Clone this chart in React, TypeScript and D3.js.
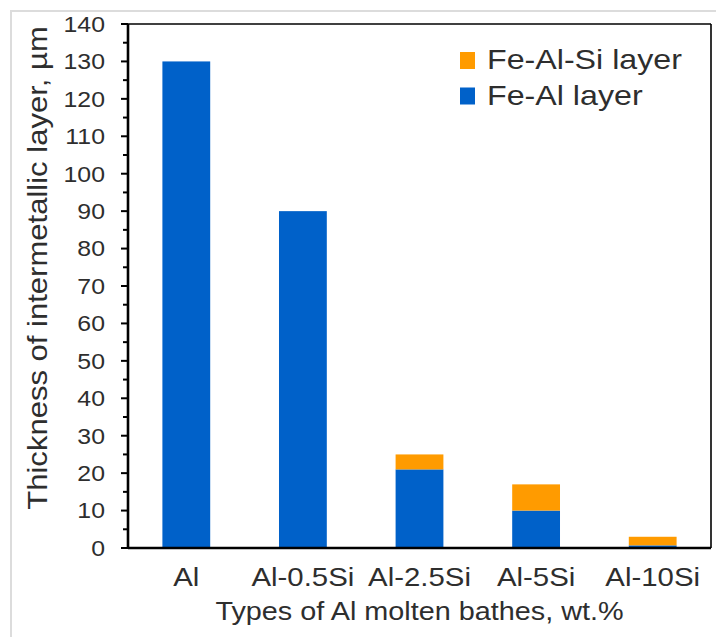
import React from "react";
import * as d3 from "d3";

const categories = ["Al", "Al-0.5Si", "Al-2.5Si", "Al-5Si", "Al-10Si"];
const feAlValues = [130, 90, 21, 10, 0.7];
const feAlSiValues = [0, 0, 4, 7, 2.3];
const seriesNames = ["Fe-Al layer", "Fe-Al-Si layer"];
const legendOrder = ["Fe-Al-Si layer", "Fe-Al layer"];
const yMajorTicks = [0, 10, 20, 30, 40, 50, 60, 70, 80, 90, 100, 110, 120, 130, 140];
const yMinorTicks = [5, 15, 25, 35, 45, 55, 65, 75, 85, 95, 105, 115, 125, 135];
const yTitle = "Thickness of intermetallic layer, µm";
const xTitle = "Types of Al molten bathes, wt.%";

const W = 716;
const H = 637;
const M = { left: 128, right: 5, top: 24, bottom: 89 };
const SX = 1.13;
const FONT = "'Liberation Sans', Arial, sans-serif";
const TEXT = "#2e2e2e";
const COLORS: Record<string, string> = {
  "Fe-Al layer": "#0061C9",
  "Fe-Al-Si layer": "#FF9B00",
};

export default function App() {
  const x = d3
    .scaleBand<string>()
    .domain(categories)
    .range([M.left, W - M.right])
    .paddingInner(0.59)
    .paddingOuter(0.295);
  const y = d3.scaleLinear().domain([0, 140]).range([H - M.bottom, M.top]);

  const rows = categories.map((c, i) => ({
    cat: c,
    "Fe-Al layer": feAlValues[i],
    "Fe-Al-Si layer": feAlSiValues[i],
  }));
  const stack = d3.stack<any>().keys(seriesNames)(rows);

  const x0 = M.left;
  const x1 = W - M.right;
  const y0 = y(0);
  const yTop = y(140);

  return (
    <svg
      width={W}
      height={H}
      style={{ position: "absolute", left: 0, top: 0, background: "#fff" }}
      fontFamily={FONT}
    >
      <rect x={11} y={11} width={W + 20} height={H + 20} fill="none" stroke="#dcdcdc" strokeWidth={2} />

      {stack.map((layer) =>
        layer.map((d, i) => (
          <rect
            key={layer.key + i}
            x={x(categories[i])}
            width={x.bandwidth()}
            y={y(d[1])}
            height={Math.max(0, y(d[0]) - y(d[1]))}
            fill={COLORS[layer.key]}
          />
        ))
      )}

      {/* plot frame */}
      <line x1={x0} x2={x1} y1={yTop} y2={yTop} stroke="#000" strokeWidth={1.6} />
      <line x1={x1} x2={x1} y1={yTop} y2={y0} stroke="#000" strokeWidth={1.6} />
      <line x1={x0} x2={x1} y1={y0} y2={y0} stroke="#000" strokeWidth={2.6} />
      <line x1={x0} x2={x0} y1={yTop} y2={y0} stroke="#000" strokeWidth={2.6} />

      {yMajorTicks.map((t) => (
        <g key={"mj" + t}>
          <line x1={x0 - 7} x2={x0} y1={y(t)} y2={y(t)} stroke="#000" strokeWidth={2} />
          <text
            transform={`translate(105,${y(t)}) scale(${SX},1)`}
            textAnchor="end"
            dy="0.36em"
            fontSize={22}
            fill={TEXT}
          >
            {t}
          </text>
        </g>
      ))}
      {yMinorTicks.map((t) => (
        <line key={"mn" + t} x1={x0 - 5} x2={x0} y1={y(t)} y2={y(t)} stroke="#000" strokeWidth={2} />
      ))}

      {categories.map((c) => (
        <text
          key={c}
          transform={`translate(${(x(c) as number) + x.bandwidth() / 2},586) scale(${SX},1)`}
          textAnchor="middle"
          fontSize={26}
          fill={TEXT}
        >
          {c}
        </text>
      ))}

      <text
        transform={`translate(${(x0 + x1) / 2},620) scale(${SX},1)`}
        textAnchor="middle"
        fontSize={25.5}
        fill={TEXT}
      >
        {xTitle}
      </text>

      <text
        transform={`translate(47,268) rotate(-90) scale(1.15,1)`}
        textAnchor="middle"
        fontSize={27}
        fill={TEXT}
      >
        {yTitle}
      </text>

      {legendOrder.map((name, i) => (
        <g key={name} transform={`translate(460,${52 + i * 35.5})`}>
          <rect x={0} y={0} width={15} height={17} fill={COLORS[name]} />
          <text transform={`translate(27,17) scale(${SX},1)`} fontSize={28.5} fill={TEXT}>
            {name}
          </text>
        </g>
      ))}
    </svg>
  );
}
